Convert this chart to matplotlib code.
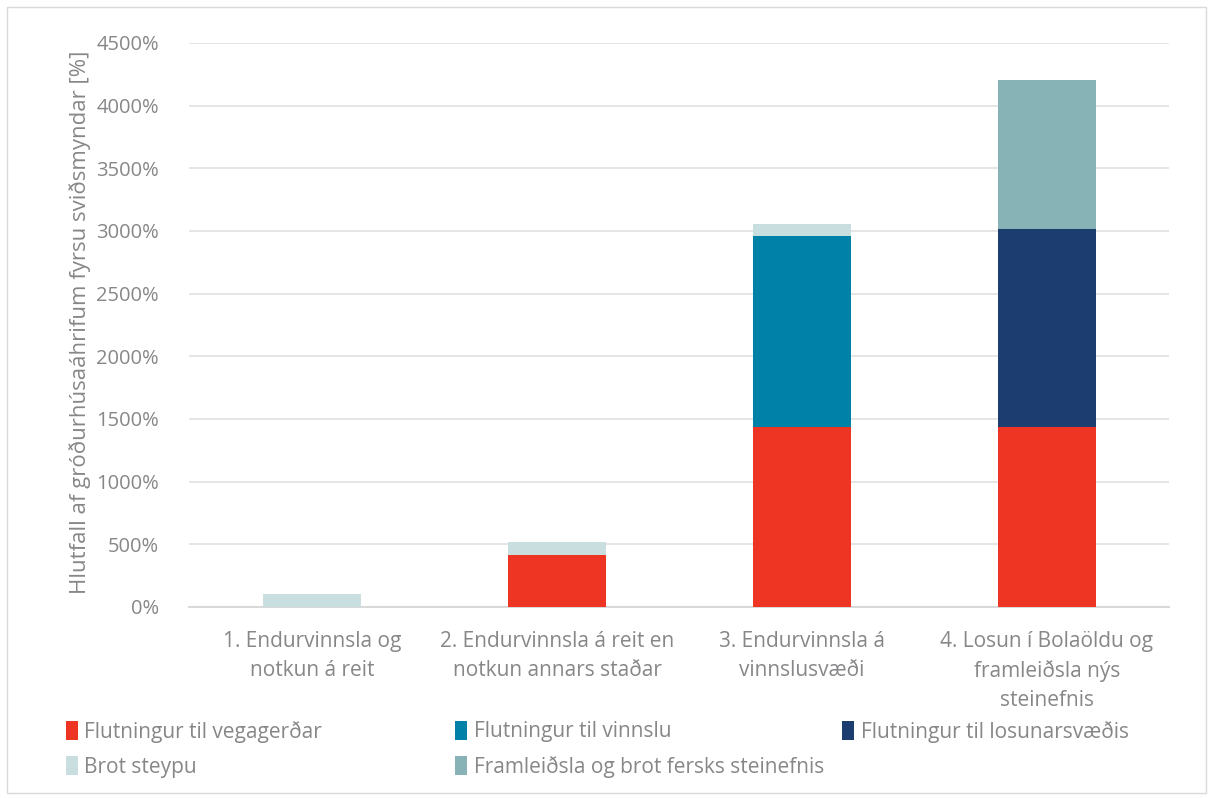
import matplotlib.pyplot as plt
from matplotlib.patches import Patch, Rectangle
from matplotlib.ticker import FuncFormatter
import numpy as np

plt.rcParams['font.family'] = ['Open Sans', 'DejaVu Sans']

categories = ["1. Endurvinnsla og\nnotkun á reit",
              "2. Endurvinnsla á reit en\nnotkun annars staðar",
              "3. Endurvinnsla á\nvinnslusvæði",
              "4. Losun í Bolaöldu og\nframleiðsla nýs\nsteinefnis"]

series_names = ["Flutningur til vegagerðar", "Flutningur til vinnslu",
                "Flutningur til losunarsvæðis", "Brot steypu",
                "Framleiðsla og brot fersks steinefnis"]
vegagerd = [0, 415, 1433, 1433]
vinnsla = [0, 0, 1529, 0]
losun = [0, 0, 0, 1585]
brot = [100, 100, 95, 0]
framleidsla = [0, 0, 0, 1186]
colors = ["#EE3524", "#0081A7", "#1B3D6F", "#C9DEDF", "#88B3B6"]

series = [vegagerd, vinnsla, losun, brot, framleidsla]

fig = plt.figure(figsize=(12.13, 7.98), dpi=100)
ax = fig.add_axes([0.1562, 0.2394, 0.8079, 0.7068])

x = np.arange(len(categories))
bottom = np.zeros(len(categories))
for i, vals in enumerate(series):
    vals = np.array(vals, dtype=float)
    ax.bar(x, vals, bottom=bottom, width=0.4, color=colors[i], zorder=3)
    bottom += vals

grey = "#878689"
ax.set_ylim(0, 4500)
ax.set_xlim(-0.5, len(categories) - 0.5)
ax.set_yticks(np.arange(0, 4501, 500))
ax.yaxis.set_major_formatter(FuncFormatter(lambda v, p: f"{int(v)}%"))
ax.grid(axis='y', color="#E3E3E3", linewidth=1.3, zorder=0)
ax.set_xticks(x)
ax.set_xticklabels(categories, fontsize=15, color=grey, linespacing=1.5)
ax.tick_params(axis='both', length=0, colors=grey)
ax.tick_params(axis='y', labelsize=14.5, pad=22)
ax.tick_params(axis='x', pad=17)
for s in ['top', 'right', 'left']:
    ax.spines[s].set_visible(False)
ax.spines['bottom'].set_color("#D9D9D9")
ax.spines['bottom'].set_linewidth(1.5)
ax.set_ylabel("Hlutfall af gróðurhúsaáhrifum fyrsu sviðsmyndar [%]",
              fontsize=16, color=grey)
ax.yaxis.set_label_coords(-0.1, 0.505)

# legend: three columns, two rows
col_x = [0.054, 0.375, 0.694]
row_y = [0.083, 0.039]
for i, name in enumerate(series_names):
    h = Patch(facecolor=colors[i], label=name)
    fig.legend(handles=[h], loc='center left',
               bbox_to_anchor=(col_x[i % 3], row_y[i // 3]),
               frameon=False, fontsize=15, labelcolor=grey,
               handlelength=0.6, handleheight=1.0, handletextpad=0.3,
               borderpad=0, borderaxespad=0)

fig.patches.append(Rectangle((0.006, 0.006), 0.988, 0.985, transform=fig.transFigure,
                             fill=False, edgecolor="#D9D9D9", linewidth=1))

fig.savefig("out.png", dpi=100)
